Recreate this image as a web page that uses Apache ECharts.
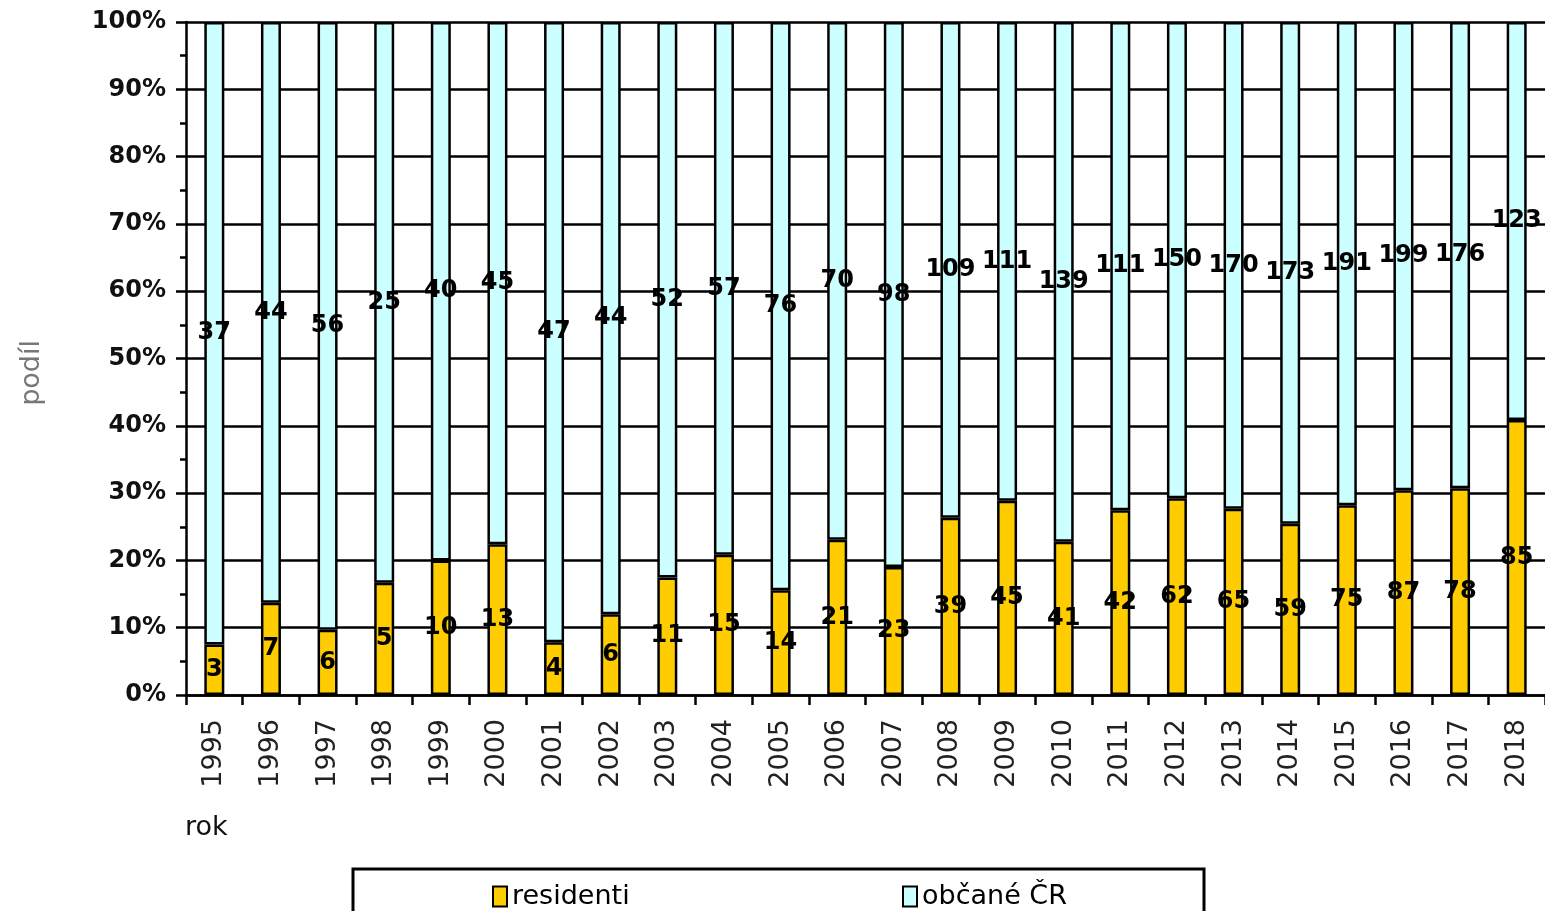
<!DOCTYPE html>
<html><head><meta charset="utf-8">
<script src="https://cdn.jsdelivr.net/npm/echarts@6/dist/echarts.min.js"></script>
<style>html,body{margin:0;padding:0;background:#fff}#c{width:1545px;height:911px}</style>
</head><body><div id="c"></div>
<script>
const years = ['1995','1996','1997','1998','1999','2000','2001','2002','2003','2004','2005','2006','2007','2008','2009','2010','2011','2012','2013','2014','2015','2016','2017','2018'];
const residenti = [3,7,6,5,10,13,4,6,11,15,14,21,23,39,45,41,42,62,65,59,75,87,78,85];
const obcane = [37,44,56,25,40,45,47,44,52,57,76,70,98,109,111,139,111,150,170,173,191,199,176,123];
const yTicks = [0,10,20,30,40,50,60,70,80,90,100];

const totals = residenti.map((v,i)=>v+obcane[i]);
const pctRes = residenti.map((v,i)=>v/totals[i]*100);
const pctObc = obcane.map((v,i)=>v/totals[i]*100);

const FONT = 'DejaVu Sans';
const chart = echarts.init(document.getElementById('c'));
const lbl = raw => ({show:true, position:'inside', fontFamily:FONT, fontWeight:'bold', fontSize:24, color:'#000',
  formatter:p=>raw[p.dataIndex]});
chart.setOption({
  animation:false,
  textStyle:{fontFamily:FONT},
  grid:{left:186, right:0, top:22, bottom:216, containLabel:false},
  xAxis:{type:'category', data:years, boundaryGap:true,
    axisLine:{lineStyle:{color:'#000', width:2.5}},
    axisTick:{show:true, length:10, lineStyle:{color:'#000', width:2.5}},
    axisLabel:{rotate:90, margin:24, fontSize:27, color:'#222', fontFamily:FONT}
  },
  yAxis:{type:'value', min:0, max:100, interval:10,
    axisLine:{show:true, lineStyle:{color:'#000', width:2.5}},
    axisTick:{show:true, length:10, lineStyle:{color:'#000', width:2.5}},
    minorTick:{show:true, splitNumber:2, length:6, lineStyle:{color:'#000', width:2.5}},
    splitLine:{show:true, lineStyle:{color:'#000', width:2.5}},
    axisLabel:{formatter:v=>yTicks.includes(v)?v+'%':'', margin:20, fontSize:24, fontWeight:'bold', color:'#111', fontFamily:FONT}
  },
  legend:[
    {data:['residenti'], left:487, top:878, itemWidth:14, itemHeight:20, icon:'rect', itemGap:10,
     textStyle:{fontSize:27, color:'#000', fontFamily:FONT}},
    {data:['občané ČR'], left:897, top:878, itemWidth:14, itemHeight:20, icon:'rect', itemGap:10,
     textStyle:{fontSize:27, color:'#000', fontFamily:FONT}}
  ],
  graphic:[
    {type:'rect', shape:{x:353, y:869, width:851, height:60}, style:{fill:'none', stroke:'#000', lineWidth:3}},
    {type:'text', left:185, top:814, style:{text:'rok', font:'27px "DejaVu Sans"', fill:'#111'}},
    {type:'text', left:18, top:340, rotation:Math.PI/2, style:{text:'podíl', font:'27px "DejaVu Sans"', fill:'#777'}}
  ],
  series:[
    {name:'residenti', type:'bar', stack:'a', data:pctRes, barWidth:20,
     itemStyle:{color:'#FFCC00', borderColor:'#000', borderWidth:2.5}, label:lbl(residenti)},
    {name:'občané ČR', type:'bar', stack:'a', data:pctObc, barWidth:20,
     itemStyle:{color:'#CCFFFF', borderColor:'#000', borderWidth:2.5}, label:lbl(obcane)}
  ]
});
</script></body></html>
